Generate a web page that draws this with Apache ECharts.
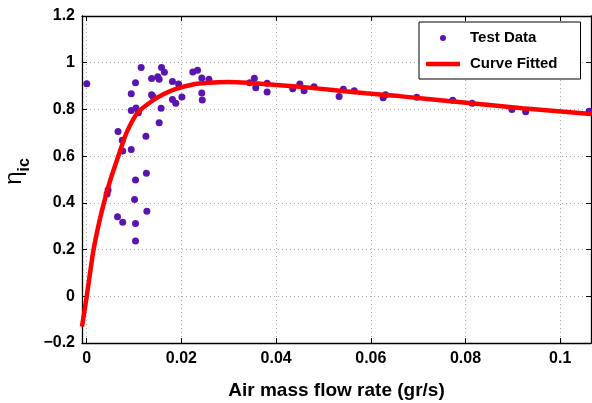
<!DOCTYPE html>
<html>
<head>
<meta charset="utf-8">
<script src="https://cdn.jsdelivr.net/npm/echarts@6/dist/echarts.min.js"></script>
<style>html,body{margin:0;padding:0;background:#fff;}#c{width:592px;height:403px;}</style>
</head>
<body>
<div id="c"></div>
<script>
// Test data (air mass flow rate, efficiency)
const testX = [0.0000, 0.0115, 0.0103, 0.0094, 0.0137, 0.0150, 0.0153, 0.0158, 0.0164, 0.0137, 0.0140,
  0.0181, 0.0194, 0.0181, 0.0188, 0.0201, 0.0224, 0.0234, 0.0243, 0.0258, 0.0243, 0.0244,
  0.0094, 0.0104, 0.0109, 0.0157, 0.0153, 0.0066, 0.0075, 0.0076, 0.0094, 0.0125,
  0.0045, 0.0043, 0.0103, 0.0126, 0.0101, 0.0065, 0.0076, 0.0127, 0.0103, 0.0103,
  0.0354, 0.0344, 0.0357, 0.0381, 0.0381, 0.0435, 0.0450, 0.0459, 0.0480, 0.0533, 0.0542,
  0.0565, 0.0626, 0.0631, 0.0697, 0.0773, 0.0814, 0.0898, 0.0927, 0.1061];
const testY = [0.910, 0.980, 0.914, 0.867, 0.932, 0.940, 0.929, 0.980, 0.959, 0.863, 0.855,
  0.920, 0.909, 0.842, 0.826, 0.853, 0.960, 0.968, 0.935, 0.929, 0.870, 0.840,
  0.795, 0.806, 0.786, 0.805, 0.743, 0.705, 0.668, 0.622, 0.628, 0.685,
  0.455, 0.438, 0.498, 0.527, 0.414, 0.341, 0.317, 0.364, 0.312, 0.237,
  0.933, 0.914, 0.893, 0.912, 0.875, 0.888, 0.909, 0.880, 0.897, 0.855, 0.886,
  0.880, 0.850, 0.863, 0.852, 0.839, 0.826, 0.800, 0.790, 0.792];
// Fitted curve
const fitX = [-0.001, 0, 0.0007, 0.0014, 0.0025, 0.0036, 0.005, 0.0064, 0.0075, 0.0085, 0.0107,
  0.0138, 0.0166, 0.0187, 0.0222, 0.0257, 0.030, 0.034, 0.038, 0.045, 0.052, 0.059, 0.066,
  0.078, 0.092, 0.1065];
const fitY = [-0.13, 0.0, 0.10, 0.195, 0.305, 0.398, 0.499, 0.584, 0.65, 0.705, 0.785,
  0.836, 0.869, 0.887, 0.906, 0.914, 0.917, 0.914, 0.908, 0.897, 0.883, 0.869, 0.857,
  0.833, 0.805, 0.78];
// Tick labels
const xTicks = [0, 0.02, 0.04, 0.06, 0.08, 0.1];
const xTickLabels = ['0', '0.02', '0.04', '0.06', '0.08', '0.1'];
const yTicks = [-0.2, 0, 0.2, 0.4, 0.6, 0.8, 1, 1.2];
const yTickLabels = ['\u22120.2', '0', '0.2', '0.4', '0.6', '0.8', '1', '1.2'];

const FONT = '"Liberation Sans", Arial, sans-serif';
const X_MIN = -0.001, X_MAX = 0.1065;

function fmtX(v) {
  for (let i = 0; i < xTicks.length; i++) if (Math.abs(v - xTicks[i]) < 1e-9) return xTickLabels[i];
  return '';
}
function fmtY(v) {
  for (let i = 0; i < yTicks.length; i++) if (Math.abs(v - yTicks[i]) < 1e-9) return yTickLabels[i];
  return '';
}

const chart = echarts.init(document.getElementById('c'), null, {renderer: 'canvas'});
const axisLine = {show: true, onZero: false, lineStyle: {color: '#000', width: 1.3}};
const split = {show: true, lineStyle: {color: '#aaa', width: 1, type: [1, 3]}};
chart.setOption({
  animation: false,
  backgroundColor: '#fff',
  grid: {left: 82, right: 1, top: 16, bottom: 60, containLabel: false, outerBoundsMode: 'none'},
  legend: {
    left: 419, top: 22, orient: 'vertical',
    backgroundColor: '#fff', borderColor: '#000', borderWidth: 1,
    padding: [7, 23, 6, 7], itemGap: 8, itemWidth: 34, itemHeight: 6,
    symbolKeepAspect: true,
    textStyle: {fontFamily: FONT, fontWeight: 'bold', fontSize: 15, color: '#000', lineHeight: 18, padding: [0, 0, 0, 5]},
    data: [
      {name: 'Test Data', icon: 'circle'},
      {name: 'Curve Fitted', icon: 'path://M0,0H34V4.3H0Z'}
    ]
  },
  xAxis: [{
    type: 'value', min: X_MIN, max: X_MAX, position: 'bottom',
    axisLine: axisLine,
    axisTick: {show: true, inside: true, length: 5, customValues: xTicks, lineStyle: {color: '#000'}},
    axisLabel: {customValues: xTicks, formatter: fmtX, margin: 8, fontFamily: FONT, fontWeight: 'bold', fontSize: 16, color: '#000'},
    splitLine: split,
    name: 'Air mass flow rate (gr/s)', nameLocation: 'middle', nameGap: 38,
    nameTextStyle: {fontFamily: FONT, fontWeight: 'bold', fontSize: 19, color: '#000'}
  }, {
    type: 'value', min: X_MIN, max: X_MAX, position: 'top',
    axisLine: axisLine,
    axisTick: {show: true, inside: true, length: 5, customValues: xTicks, lineStyle: {color: '#000'}},
    axisLabel: {show: false}, splitLine: {show: false}
  }],
  yAxis: [{
    type: 'value', min: -0.2, max: 1.2, interval: 0.2, position: 'left',
    axisLine: axisLine,
    axisTick: {show: true, inside: true, length: 5, lineStyle: {color: '#000'}},
    axisLabel: {formatter: fmtY, margin: 7, fontFamily: FONT, fontWeight: 'bold', fontSize: 16, color: '#000'},
    splitLine: split,
    name: '{a|\u03b7}{b|ic}', nameLocation: 'middle', nameGap: 55, nameRotate: 90,
    nameTextStyle: {
      padding: [0, 0, 0, 16],
      rich: {
        a: {fontFamily: FONT, fontSize: 24, color: '#000', verticalAlign: 'bottom'},
        b: {fontFamily: FONT, fontSize: 16, fontWeight: 'bold', color: '#000', verticalAlign: 'bottom', padding: [0, 0, -6, 0]}
      }
    }
  }, {
    type: 'value', min: -0.2, max: 1.2, interval: 0.2, position: 'right',
    axisLine: axisLine,
    axisTick: {show: true, inside: true, length: 5, lineStyle: {color: '#000'}},
    axisLabel: {show: false}, splitLine: {show: false}
  }],
  series: [{
    name: 'Test Data', type: 'scatter', xAxisIndex: 0, yAxisIndex: 0,
    symbol: 'circle', symbolSize: 7,
    itemStyle: {color: '#5a14b0', opacity: 1},
    data: testX.map((x, i) => [x, testY[i]]), z: 3
  }, {
    name: 'Curve Fitted', type: 'line', xAxisIndex: 0, yAxisIndex: 0,
    showSymbol: false, symbol: 'none', smooth: 0.2,
    lineStyle: {color: '#ff0000', width: 4.5},
    itemStyle: {color: '#ff0000'},
    data: fitX.map((x, i) => [x, fitY[i]]), z: 4, clip: true
  }]
});
</script>
</body>
</html>
